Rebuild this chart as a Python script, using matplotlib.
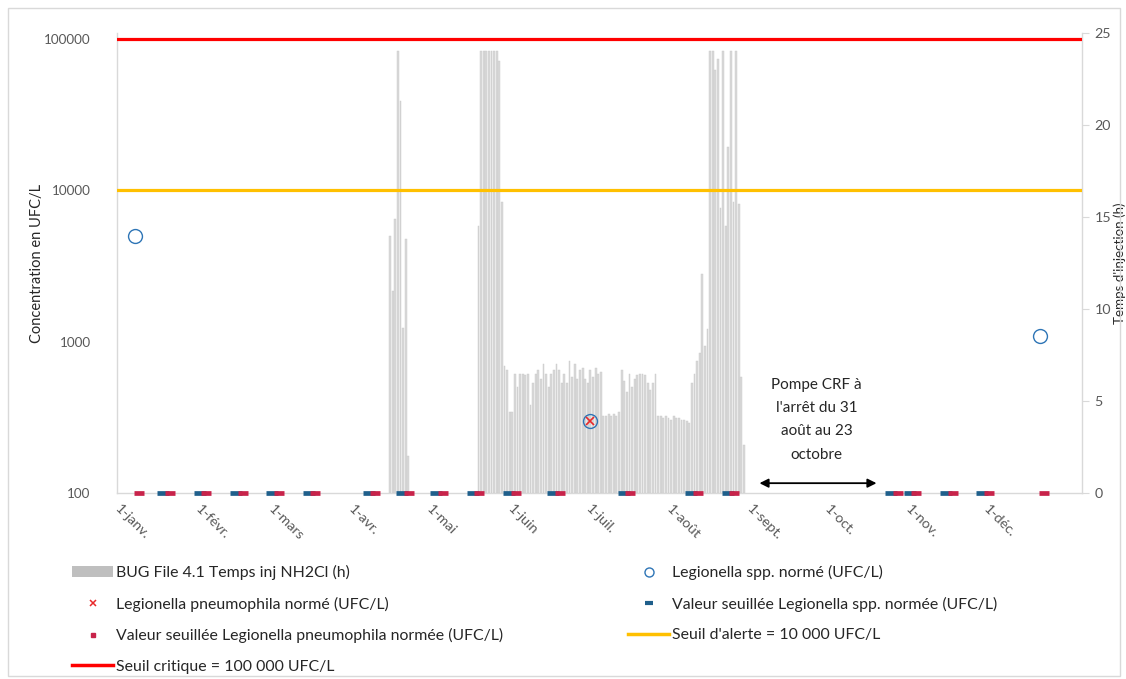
import numpy as np
import matplotlib
matplotlib.use("Agg")
import matplotlib.pyplot as plt
import matplotlib.dates as mdates
import matplotlib.transforms as mtransforms
from matplotlib.lines import Line2D
from matplotlib.patches import Patch, Rectangle
from matplotlib.ticker import NullLocator, FixedLocator, FixedFormatter

plt.rcParams['font.family'] = ['Lato', 'DejaVu Sans']

# ---------------- data ----------------
month_ticks = ["2019-01-01", "2019-02-01", "2019-03-01", "2019-04-01", "2019-05-01", "2019-06-01",
               "2019-07-01", "2019-08-01", "2019-09-01", "2019-10-01", "2019-11-01", "2019-12-01"]
month_labels = ["1-janv.", "1-févr.", "1-mars", "1-avr.", "1-mai", "1-juin",
                "1-juil.", "1-août", "1-sept.", "1-oct.", "1-nov.", "1-déc."]
x_start = "2019-01-01"
x_end = "2020-01-07"

# daily injection time NH2Cl (h), right axis
inj_april_start = "2019-04-16"
inj_april_hours = [14.0, 11.0, 14.9, 24.0, 21.3, 9.0, 13.8, 2.0]
inj_summer_start = "2019-05-20"
inj_summer_hours = [
    14.5, 24, 24, 24, 24, 24, 24, 24, 23.5, 15.8,
    6.9, 6.7, 4.4, 4.4, 6.5, 5.8, 6.5, 6.5, 6.4, 6.5,
    4.8, 6.0, 6.5, 6.7, 6.2, 7.0, 6.5, 5.8, 6.5, 6.7,
    7.0, 6.7, 6.0, 6.5, 6.0, 7.2, 6.3, 7.0, 6.2, 6.7,
    6.8, 6.2, 6.0, 6.7, 6.3, 6.8, 6.5, 6.6,
    4.2, 4.2, 4.3, 4.2, 4.3, 4.2, 4.4,
    6.7, 6.1, 5.5, 6.5, 5.8, 6.2, 6.4, 6.5, 6.5, 6.4, 6.0, 5.6, 6.0, 6.5,
    4.2, 4.2, 4.1, 4.2, 4.1, 4.0, 4.2, 4.1, 4.1, 4.0, 4.0, 3.9, 3.8,
    6.0, 6.5, 7.2, 7.6, 11.9, 8.0, 8.9,
    24, 24, 23.0, 23.6, 15.5, 24, 14.5, 18.8, 24, 15.8, 24, 15.7, 6.3, 2.6,
]

# sampling dates and Legionella results (UFC/L), left log axis
sample_dates = ["2019-01-08", "2019-01-20", "2019-02-03", "2019-02-17", "2019-03-03", "2019-03-17",
                "2019-04-09", "2019-04-22", "2019-05-05", "2019-05-19", "2019-06-02", "2019-06-19",
                "2019-07-02", "2019-07-16", "2019-08-11", "2019-08-25", "2019-10-27", "2019-11-03",
                "2019-11-17", "2019-12-01", "2019-12-22"]
nan = np.nan
spp_normed = [5000, nan, nan, nan, nan, nan, nan, nan, nan, nan, nan, nan,
              300, nan, nan, nan, nan, nan, nan, nan, 1100]
spp_threshold = [nan, 100, 100, 100, 100, 100, 100, 100, 100, 100, 100, 100,
                 nan, 100, 100, 100, 100, 100, 100, 100, nan]
pneumo_normed = [nan, nan, nan, nan, nan, nan, nan, nan, nan, nan, nan, nan,
                 300, nan, nan, nan, nan, nan, nan, nan, nan]
pneumo_threshold = [100, 100, 100, 100, 100, 100, 100, 100, 100, 100, 100, 100,
                    nan, 100, 100, 100, 100, 100, 100, 100, 100]

seuil_alerte = 10000
seuil_critique = 100000

arret_arrow = ["2019-09-05", "2019-10-20"]
arret_text_date = "2019-09-27"
arret_text = "Pompe CRF à\nl'arrêt du 31\naoût au 23\noctobre"

legend_labels = ["BUG File 4.1 Temps inj NH2Cl (h)",
                 "Legionella spp. normé (UFC/L)",
                 "Legionella pneumophila normé (UFC/L)",
                 "Valeur seuillée Legionella spp. normée (UFC/L)",
                 "Valeur seuillée Legionella pneumophila normée (UFC/L)",
                 "Seuil d'alerte = 10 000 UFC/L",
                 "Seuil critique = 100 000 UFC/L"]

# ---------------- styles ----------------
GRAY_TXT = '#595959'
BAR_C = '#d9d9d9'
BLUE = '#2E75B6'
DASH_BLUE = '#1F5F8B'
DASH_RED = '#C8234A'
RED = '#FF0000'
YELLOW = '#FFC000'
W, H = 1126, 679


def dnum(s):
    return mdates.date2num(np.datetime64(s))


fig = plt.figure(figsize=(W / 100, H / 100), dpi=100)
ax1 = fig.add_axes([117 / W, 1 - 493.3 / H, (1082 - 117) / W, (493.3 - 33) / H])
ax2 = ax1.twinx()
ax1.set_zorder(ax2.get_zorder() + 1)
ax1.patch.set_visible(False)

# bars (right axis)
xa = dnum(inj_april_start) + np.arange(len(inj_april_hours))
xs = dnum(inj_summer_start) + np.arange(len(inj_summer_hours))
for xx, hh in ((xa, inj_april_hours), (xs, inj_summer_hours)):
    ax2.bar(xx, hh, width=0.7, color=BAR_C, edgecolor='#c8c8c8', linewidth=0.3, zorder=2)
ax2.set_ylim(0, 25)
ax2.yaxis.set_major_locator(FixedLocator([0, 5, 10, 15, 20, 25]))

# threshold lines (left axis)
ax1.axhline(seuil_critique, color=RED, lw=2.3, zorder=3)
ax1.axhline(seuil_alerte, color=YELLOW, lw=2.3, zorder=3)

xd = np.array([dnum(s) for s in sample_dates])
off_l = mtransforms.offset_copy(ax1.transData, fig=fig, x=-3.3, y=0, units='dots')
off_r = mtransforms.offset_copy(ax1.transData, fig=fig, x=3.3, y=0, units='dots')
ax1.plot(xd, spp_threshold, ls='none', marker='_', ms=8, mew=3.4, mec=DASH_BLUE,
         transform=off_l, zorder=5, clip_on=False)
ax1.plot(xd, pneumo_threshold, ls='none', marker='_', ms=7, mew=3.4, mec=DASH_RED,
         transform=off_r, zorder=6, clip_on=False)
ax1.plot(xd, spp_normed, ls='none', marker='o', ms=10, mfc='none', mec=BLUE, mew=1.0, zorder=6)
ax1.plot(xd, pneumo_normed, ls='none', marker='x', ms=5.5, mec='#E8292B', mew=1.2, zorder=7)

ax1.set_yscale('log')
ax1.set_ylim(100, 10 ** (5 + 6 / 151.4))
ax1.yaxis.set_major_locator(FixedLocator([100, 1000, 10000, 100000]))
ax1.yaxis.set_major_formatter(FixedFormatter(['100', '1000', '10000', '100000']))
ax1.yaxis.set_minor_locator(NullLocator())

ax1.set_xlim(dnum(x_start), dnum(x_end))
ax1.xaxis.set_major_locator(FixedLocator([dnum(s) for s in month_ticks]))
ax1.xaxis.set_major_formatter(FixedFormatter(month_labels))
ax1.xaxis.set_minor_locator(NullLocator())

# arrow & text
ax2.annotate('', xy=(dnum(arret_arrow[1]), 0.55), xytext=(dnum(arret_arrow[0]), 0.55),
             arrowprops=dict(arrowstyle='<|-|>', color='black', lw=1.3, mutation_scale=13,
                             shrinkA=0, shrinkB=0))
ax2.text(dnum(arret_text_date), 4.0, arret_text, ha='center', va='center', fontsize=11,
         color='#262626', linespacing=1.85)

# spines & ticks
for ax in (ax1, ax2):
    ax.spines['top'].set_visible(False)
    for sp in ('left', 'right', 'bottom'):
        ax.spines[sp].set_color('#d9d9d9')
        ax.spines[sp].set_linewidth(1.0)
ax1.spines['right'].set_visible(False)
ax2.spines['left'].set_visible(False)
ax2.spines['bottom'].set_visible(False)

ax1.tick_params(axis='y', which='both', length=0, labelsize=9.7, labelcolor=GRAY_TXT, pad=19)
ax1.tick_params(axis='x', length=0, labelsize=10.3, labelcolor=GRAY_TXT, pad=10)
ax2.tick_params(axis='y', length=5, color='#d9d9d9', labelsize=10.3, labelcolor=GRAY_TXT, pad=4)
for lab in ax1.get_xticklabels():
    lab.set_rotation(-45)
    lab.set_rotation_mode('anchor')
    lab.set_ha('left')
    lab.set_va('center')

ax1.set_ylabel('Concentration en UFC/L', fontsize=10.5, color='#262626')
ax1.yaxis.label.set_va('center')
ax1.yaxis.set_label_coords((37 - 117) / (1082 - 117), 0.5)
ax2.set_ylabel("Temps d'injection (h)", fontsize=9.6, color='#262626')
ax2.yaxis.label.set_va('center')
ax2.yaxis.set_label_coords((1120 - 117) / (1082 - 117), 0.5)

# legends
h_bar = Patch(facecolor='#bfbfbf', edgecolor='none')
h_circle = Line2D([], [], ls='none', marker='o', ms=6.5, mfc='none', mec=BLUE, mew=1.0)
h_x = Line2D([], [], ls='none', marker='x', ms=5, mec='#E8292B', mew=1.1)
h_bdash = Line2D([], [], ls='none', marker='_', ms=6, mew=3, mec=DASH_BLUE)
h_rsq = Line2D([], [], ls='none', marker='s', ms=3, mfc=DASH_RED, mec=DASH_RED)
h_yel = Line2D([], [], color=YELLOW, lw=2.5)
h_red = Line2D([], [], color=RED, lw=2.5)

common = dict(frameon=False, fontsize=11.4, handlelength=2.6, handletextpad=0.15,
              labelspacing=1.04, borderpad=0, borderaxespad=0, loc='upper left')
leg1 = fig.legend([h_bar, h_x, h_rsq, h_red],
                  [legend_labels[0], legend_labels[2], legend_labels[4], legend_labels[6]],
                  bbox_to_anchor=(72 / W, 1 - 565 / H), **common)
leg2 = fig.legend([h_circle, h_bdash, h_yel],
                  [legend_labels[1], legend_labels[3], legend_labels[5]],
                  bbox_to_anchor=(628 / W, 1 - 565 / H), **common)
for lg in (leg1, leg2):
    for t in lg.get_texts():
        t.set_color('#262626')

fig.patches.append(Rectangle((8 / W, 3 / H), (1120 - 8) / W, (671 - 3) / H, transform=fig.transFigure,
                             fill=False, edgecolor='#d9d9d9', lw=1.0))

fig.savefig('out.png', dpi=100)
